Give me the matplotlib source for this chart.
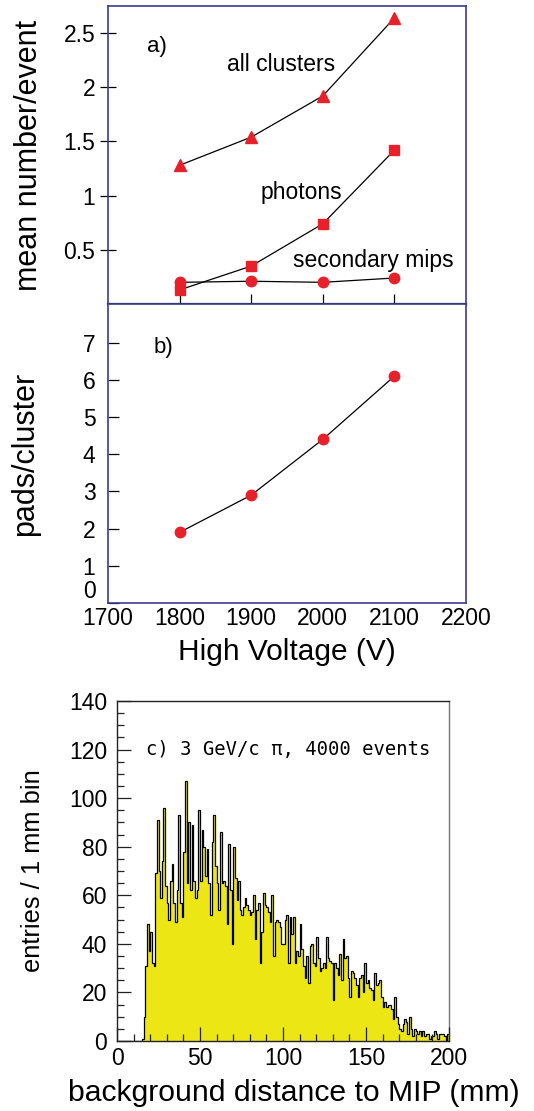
import numpy as np
import matplotlib
matplotlib.use("Agg")
import matplotlib.pyplot as plt

plt.rcParams['font.family'] = ['Liberation Sans', 'DejaVu Sans']

# ---------------- data ----------------
voltage = [1800, 1900, 2000, 2100]
all_clusters = [1.28, 1.54, 1.92, 2.64]
photons = [0.13, 0.35, 0.74, 1.42]
secondary_mips = [0.20, 0.21, 0.20, 0.24]
pads_per_cluster = [1.9, 2.9, 4.4, 6.1]

hist_edges = np.arange(0, 201, 1)
hist_counts = [
    0, 0, 0, 0, 0, 0, 0, 0, 0, 0, 0, 0, 0, 0, 0, 1,          # 0-15
    10, 31, 48, 37, 45, 32, 31, 69, 91, 70,                  # 16-25
    59, 74, 96, 64, 57, 50, 66, 73, 57, 49,                  # 26-35
    62, 93, 57, 51, 78, 107, 65, 90, 62, 89,                 # 36-45
    66, 59, 62, 95, 66, 87, 80, 68, 79, 65,                  # 46-55
    52, 82, 93, 72, 65, 54, 86, 65, 66, 64,                  # 56-65
    48, 81, 62, 40, 80, 67, 58, 66, 54, 52,                  # 66-75
    55, 59, 56, 54, 52, 53, 60, 42, 54, 57,                  # 76-85
    32, 45, 61, 56, 55, 53, 49, 60, 35, 49,                  # 86-95
    50, 49, 47, 40, 40, 50, 52, 32, 51, 44,                  # 96-105
    51, 32, 37, 35, 48, 38, 31, 26, 35, 24,                  # 106-115
    39, 40, 32, 31, 43, 34, 29, 30, 32, 30,                  # 116-125
    43, 34, 33, 32, 17, 32, 30, 27, 36, 25,                  # 126-135
    42, 34, 35, 26, 18, 29, 28, 26, 23, 18,                  # 136-145
    26, 27, 20, 32, 24, 25, 22, 21, 17, 28,                  # 146-155
    23, 24, 25, 18, 14, 16, 14, 15, 15, 13,                  # 156-165
    9, 18, 10, 7, 5, 4, 7, 9, 8, 3,                          # 166-175
    10, 5, 2, 5, 4, 3, 4, 2, 4, 2,                           # 176-185
    3, 3, 1, 2, 2, 4, 3, 1, 3, 3,                            # 186-195
    3, 2, 0, 3,                                              # 196-199
]

hv_ticks = [1700, 1800, 1900, 2000, 2100, 2200]
a_yticks = [0.5, 1, 1.5, 2, 2.5]
a_yticklabels = ['0.5', '1', '1.5', '2', '2.5']
b_yticks = [0, 1, 2, 3, 4, 5, 6, 7]

# ---------------- style ----------------
RED = '#e8202a'
FRAME = '#3b3b8c'
YELLOW = '#ebe614'

fig = plt.figure(figsize=(5.34, 11.11), dpi=100)

W, H = 534.0, 1111.0
def rect(l, t, r, b):
    return [l / W, 1 - b / H, (r - l) / W, (b - t) / H]

ax_a = fig.add_axes(rect(108, 6, 466, 304))
ax_b = fig.add_axes(rect(108, 304, 466, 603))
ax_c = fig.add_axes(rect(117, 701, 449, 1041))

# ----- panel a -----
ax_a.plot(voltage, all_clusters, color='black', lw=0.9, zorder=2)
ax_a.plot(voltage, all_clusters, ls='none', marker='^', ms=9, color=RED,
          mec=RED, zorder=3)
ax_a.plot(voltage, photons, color='black', lw=0.9, zorder=2)
ax_a.plot(voltage, photons, ls='none', marker='s', ms=7.5, color=RED,
          mec=RED, zorder=3)
ax_a.plot(voltage, secondary_mips, color='black', lw=0.9, zorder=2)
ax_a.plot(voltage, secondary_mips, ls='none', marker='o', ms=7.5, color=RED,
          mec=RED, zorder=3)

ax_a.set_xlim(1700, 2200)
ax_a.set_ylim(0, 2.75)
ax_a.set_xticks(voltage)
ax_a.set_xticklabels([])
ax_a.tick_params(axis='x', direction='in', length=7, width=0.9, color='black')
ax_a.set_yticks(a_yticks)
ax_a.set_yticklabels(a_yticklabels)
ax_a.tick_params(axis='y', direction='inout', length=12, width=0.9,
                 color='black', labelsize=16.5, pad=3)
ax_a.set_ylabel('mean number/event', fontsize=22)
ax_a.yaxis.set_label_coords(-0.222, 0.5)
ax_a.yaxis.label.set_va('center')

ax_a.text(1768, 2.38, 'a)', fontsize=16, ha='center', va='center')
ax_a.text(1942, 2.21, 'all clusters', fontsize=16.5, ha='center', va='center')
ax_a.text(1970, 1.03, 'photons', fontsize=16.5, ha='center', va='center')
ax_a.text(2070, 0.40, 'secondary mips', fontsize=16.5, ha='center', va='center')

# ----- panel b -----
ax_b.plot(voltage, pads_per_cluster, color='black', lw=0.9, zorder=2)
ax_b.plot(voltage, pads_per_cluster, ls='none', marker='o', ms=7.5,
          color=RED, mec=RED, zorder=3)
ax_b.set_xlim(1700, 2200)
ax_b.set_ylim(0, 8.04)
ax_b.set_xticks(hv_ticks)
ax_b.set_xticklabels([str(v) for v in hv_ticks])
ax_b.tick_params(axis='x', direction='in', length=0, labelsize=16.5, pad=3)
ax_b.set_yticks(b_yticks)
ax_b.tick_params(axis='y', direction='in', length=8, width=0.9,
                 color='black', labelsize=16.5, pad=9)
ax_b.get_yticklabels()[0].set_va('bottom')
ax_b.set_ylabel('pads/cluster', fontsize=22)
ax_b.yaxis.set_label_coords(-0.232, 0.5)
ax_b.yaxis.label.set_va('center')
ax_b.set_xlabel('High Voltage (V)', fontsize=21.5)
ax_b.xaxis.set_label_coords(0.5, -0.163)
ax_b.xaxis.label.set_va('center')
ax_b.text(1777, 6.86, 'b)', fontsize=16, ha='center', va='center')

for ax in (ax_a, ax_b):
    for s in ax.spines.values():
        s.set_color(FRAME)
        s.set_linewidth(1.2)
ax_a.spines['bottom'].set_color('#1a1a4a')
ax_a.spines['bottom'].set_linewidth(1.6)

# ----- panel c -----
ax_c.stairs(hist_counts, hist_edges, fill=True, color=YELLOW, lw=0, zorder=1)
ax_c.stairs(hist_counts, hist_edges, color='black', lw=0.9, zorder=2)
ax_c.set_xlim(0, 200)
ax_c.set_ylim(0, 140)
ax_c.set_xticks(np.arange(0, 201, 50))
ax_c.set_xticks(np.arange(0, 201, 10), minor=True)
ax_c.set_yticks(np.arange(0, 141, 20))
ax_c.set_yticks(np.arange(0, 141, 5), minor=True)
ax_c.tick_params(axis='both', which='major', direction='in', length=10,
                 width=0.9, color='#222222', labelsize=16.5, zorder=5)
ax_c.tick_params(axis='both', which='minor', direction='in', length=5,
                 width=0.9, color='#222222')
ax_c.tick_params(axis='y', which='major', pad=7)
ax_c.tick_params(axis='x', which='major', pad=4)
ax_c.set_ylabel('entries / 1 mm bin', fontsize=18.4)
ax_c.yaxis.set_label_coords(-0.253, 0.5)
ax_c.yaxis.label.set_va('center')
ax_c.set_xlabel('background distance to MIP (mm)', fontsize=21.7)
ax_c.xaxis.set_label_coords(0.533, -0.153)
ax_c.xaxis.label.set_va('center')
ax_c.text(0.515, 0.857, 'c) 3 GeV/c \u03c0, 4000 events', transform=ax_c.transAxes,
          fontsize=13.6, family='DejaVu Sans Mono', ha='center', va='center')
for s in ax_c.spines.values():
    s.set_color('#222222')
    s.set_linewidth(1.0)
ax_c.spines['right'].set_color('#777777')
ax_c.set_axisbelow(False)

fig.savefig('out.png', dpi=100)
